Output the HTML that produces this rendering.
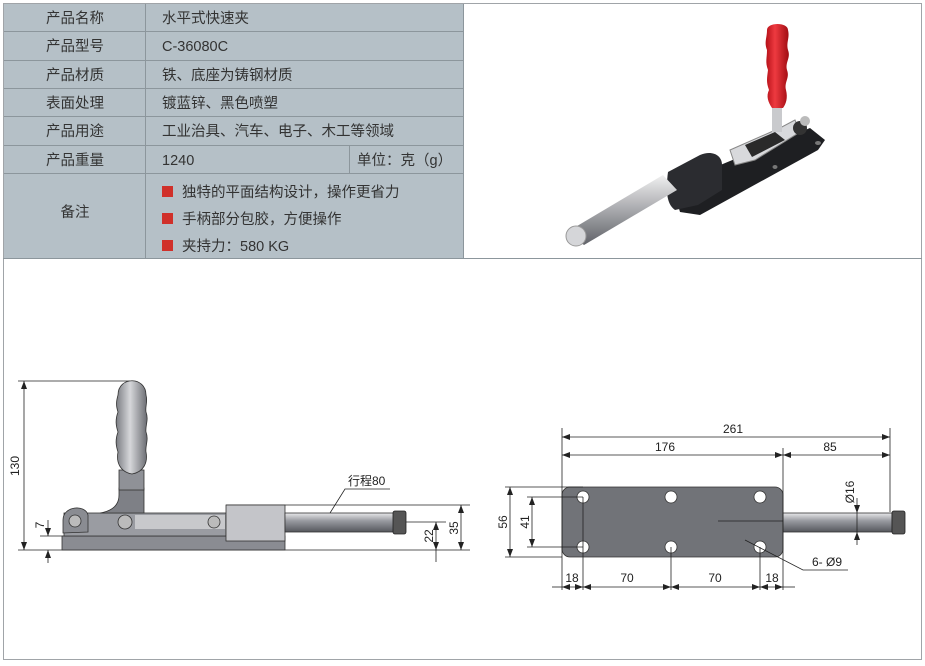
<!DOCTYPE html>
<html><head><meta charset="utf-8"><style>
html,body{margin:0;padding:0;background:#fff;}
body{width:925px;height:666px;overflow:hidden;position:relative;}
svg{position:absolute;left:0;top:0;}
.t{font-family:"Liberation Sans","Noto Sans CJK SC",sans-serif;font-size:14.5px;fill:#333;}
.d{font-family:"Liberation Sans","Noto Sans CJK SC",sans-serif;font-size:12px;fill:#222;}
</style></head><body>
<svg width="925" height="666" viewBox="0 0 925 666" xmlns="http://www.w3.org/2000/svg">
<defs>
<marker id="a" markerWidth="8" markerHeight="6" refX="8" refY="3" orient="auto-start-reverse" markerUnits="userSpaceOnUse"><path d="M0,0 L8,3 L0,6z" fill="#222"/></marker>
<linearGradient id="rod" x1="0" y1="0" x2="0" y2="1"><stop offset="0" stop-color="#e8e8ea"/><stop offset=".4" stop-color="#9a9ca2"/><stop offset="1" stop-color="#55575c"/></linearGradient>
<linearGradient id="grip" x1="0" y1="0" x2="1" y2="0"><stop offset="0" stop-color="#7a7c82"/><stop offset=".45" stop-color="#d6d7da"/><stop offset="1" stop-color="#6a6c72"/></linearGradient>
<linearGradient id="red" x1="0" y1="0" x2="1" y2="0"><stop offset="0" stop-color="#b51018"/><stop offset=".4" stop-color="#ee3a40"/><stop offset="1" stop-color="#a00c12"/></linearGradient>
<linearGradient id="prod" x1="0" y1="0" x2="0" y2="1"><stop offset="0" stop-color="#f0f0f0"/><stop offset=".5" stop-color="#a8a9ad"/><stop offset="1" stop-color="#606268"/></linearGradient>
</defs>
<rect x="3.5" y="3.5" width="918" height="656" fill="none" stroke="#a0a4a8"/>
<rect x="4" y="4" width="459" height="254" fill="#b5c0c7"/>
<g stroke="#8c969c" stroke-width="1">
<line x1="4" y1="31.5" x2="463" y2="31.5"/><line x1="4" y1="60.5" x2="463" y2="60.5"/><line x1="4" y1="88.5" x2="463" y2="88.5"/><line x1="4" y1="116.5" x2="463" y2="116.5"/><line x1="4" y1="145.5" x2="463" y2="145.5"/><line x1="4" y1="173.5" x2="463" y2="173.5"/>
<line x1="145.5" y1="4" x2="145.5" y2="258"/><line x1="349.5" y1="145" x2="349.5" y2="173"/><line x1="463.5" y1="4" x2="463.5" y2="258"/>
</g>
<line x1="3" y1="258.5" x2="922" y2="258.5" stroke="#8c969c"/>
<g class="t">
<text x="75" y="23" text-anchor="middle">产品名称</text>
<text x="75" y="51" text-anchor="middle">产品型号</text>
<text x="75" y="80" text-anchor="middle">产品材质</text>
<text x="75" y="108" text-anchor="middle">表面处理</text>
<text x="75" y="136" text-anchor="middle">产品用途</text>
<text x="75" y="165" text-anchor="middle">产品重量</text>
<text x="75" y="217" text-anchor="middle">备注</text>
<text x="162" y="23">水平式快速夹</text>
<text x="162" y="51">C-36080C</text>
<text x="162" y="80">铁、底座为铸钢材质</text>
<text x="162" y="108">镀蓝锌、黑色喷塑</text>
<text x="162" y="136">工业治具、汽车、电子、木工等领域</text>
<text x="162" y="165">1240</text>
<text x="357" y="165">单位：克（g）</text>
<text x="182" y="197">独特的平面结构设计，操作更省力</text>
<text x="182" y="224">手柄部分包胶，方便操作</text>
<text x="182" y="251">夹持力：580 KG</text>
</g>
<rect x="162" y="186" width="11" height="11" fill="#d0302a"/>
<rect x="162" y="213" width="11" height="11" fill="#d0302a"/>
<rect x="162" y="240" width="11" height="11" fill="#d0302a"/>
<!-- product photo -->
<g>
<polygon points="672,185 810,128 825,140 818,150 700,215 680,212" fill="#1e1f22"/>
<ellipse cx="706" cy="191" rx="3" ry="2" fill="#777"/><ellipse cx="818" cy="143" rx="3" ry="2" fill="#777"/><ellipse cx="775" cy="167" rx="2.5" ry="2" fill="#777"/>
<path d="M730,150 L780,128 L795,120 L800,132 L755,160 L735,165z" fill="#d8d9dc" stroke="#888"/>
<path d="M745,145 L775,132 L785,140 L752,157z" fill="#2a2a2a"/>
<rect x="772" y="100" width="10" height="32" fill="#c9cacd"/>
<circle cx="800" cy="128" r="7" fill="#333"/><circle cx="805" cy="121" r="5" fill="#bbb"/>
<path d="M767,30 C767,22 788,22 788,30 C790,38 786,42 788,50 C791,58 785,62 787,70 C790,78 784,82 786,90 C788,98 786,104 783,108 L772,108 C768,102 766,96 769,90 C766,82 767,78 768,70 C765,62 767,58 767,50 C764,42 767,38 767,30z" fill="url(#red)"/>
<path d="M668,172 L700,155 C712,150 722,155 722,165 L722,190 L698,205 L675,210 C668,205 665,195 668,172z" fill="#2b2c30"/>
<polygon points="567,232 663,175 677,190 584,245" fill="url(#prod)"/>
<ellipse cx="576" cy="236" rx="10" ry="10" fill="#d5d6d9" stroke="#999"/>
</g>
<!-- side view -->
<g stroke="#222" stroke-width="0.8" fill="none">
<line x1="18" y1="381" x2="130" y2="381"/>
<line x1="24" y1="381" x2="24" y2="550" marker-start="url(#a)" marker-end="url(#a)"/>
<line x1="18" y1="550" x2="470" y2="550"/>
<line x1="40" y1="536" x2="64" y2="536"/>
<line x1="48" y1="520" x2="48" y2="536" marker-end="url(#a)"/>
<line x1="48" y1="563" x2="48" y2="550" marker-end="url(#a)"/>
<line x1="226" y1="505" x2="470" y2="505"/>
<line x1="406" y1="522" x2="446" y2="522"/>
<line x1="436" y1="522" x2="436" y2="550" marker-start="url(#a)" marker-end="url(#a)"/>
<line x1="436" y1="550" x2="436" y2="562"/>
<line x1="461" y1="505" x2="461" y2="550" marker-start="url(#a)" marker-end="url(#a)"/>
<polyline points="390,489 345,489 330,513"/>
</g>
<text class="d" x="348" y="485">行程80</text>
<text class="d" transform="translate(19,466) rotate(-90)" text-anchor="middle">130</text>
<text class="d" transform="translate(44,525) rotate(-90)" text-anchor="middle">7</text>
<text class="d" transform="translate(433,536) rotate(-90)" text-anchor="middle">22</text>
<text class="d" transform="translate(458,528) rotate(-90)" text-anchor="middle">35</text>
<rect x="62" y="536" width="223" height="14" fill="#8a8c92" stroke="#333" stroke-width=".8"/>
<rect x="64" y="513" width="162" height="23" fill="#9a9ca2" stroke="#333" stroke-width=".8"/>
<rect x="135" y="515" width="90" height="14" fill="#c8c9cc"/>
<path d="M119,488 L144,488 L144,513 L100,513 C112,511 119,505 119,495z" fill="#7e8086" stroke="#333" stroke-width=".8"/>
<rect x="119" y="470" width="25" height="20" fill="#8f9197" stroke="#333" stroke-width=".8"/>
<path d="M118,395 C118,376 146,376 146,395 C148,402 145,406 146,412 C149,420 145,426 146,432 C149,440 145,446 146,452 C148,462 144,472 132,474 C120,472 116,462 118,452 C116,446 115,440 118,432 C116,426 115,420 118,412 C116,406 116,402 118,395z" fill="url(#grip)" stroke="#333" stroke-width=".8"/>
<path d="M63,520 C63,506 85,504 88,515 L88,532 L63,533z" fill="#8a8c92" stroke="#333" stroke-width=".8"/>
<circle cx="75" cy="521" r="6" fill="#bbb" stroke="#333" stroke-width=".8"/>
<circle cx="125" cy="522" r="7" fill="#bbb" stroke="#333" stroke-width=".8"/>
<circle cx="214" cy="522" r="6" fill="#bbb" stroke="#333" stroke-width=".8"/>
<rect x="226" y="505" width="59" height="36" fill="#c4c5c9" stroke="#333" stroke-width=".8"/>
<rect x="285" y="513" width="112" height="19" fill="url(#rod)" stroke="#333" stroke-width=".8"/>
<rect x="393" y="511" width="13" height="23" rx="2" fill="#555" stroke="#222" stroke-width=".8"/>
<!-- top view -->
<rect x="562" y="487" width="221" height="70" rx="8" fill="#717378" stroke="#333" stroke-width=".8"/>
<rect x="783" y="513" width="109" height="19" fill="url(#rod)" stroke="#333" stroke-width=".8"/>
<rect x="892" y="511" width="13" height="23" rx="2" fill="#555" stroke="#222" stroke-width=".8"/>
<g fill="#fff" stroke="#333" stroke-width=".8">
<circle cx="583" cy="497" r="6"/><circle cx="671" cy="497" r="6"/><circle cx="760" cy="497" r="6"/>
<circle cx="583" cy="547" r="6"/><circle cx="671" cy="547" r="6"/><circle cx="760" cy="547" r="6"/>
</g>
<g stroke="#222" stroke-width="0.8" fill="none">
<line x1="562" y1="428" x2="562" y2="590"/>
<line x1="783" y1="448" x2="783" y2="590"/>
<line x1="890" y1="428" x2="890" y2="512"/>
<line x1="583" y1="497" x2="583" y2="590"/>
<line x1="671" y1="547" x2="671" y2="590"/>
<line x1="760" y1="547" x2="760" y2="590"/>
<line x1="562" y1="437" x2="890" y2="437" marker-start="url(#a)" marker-end="url(#a)"/>
<line x1="562" y1="455" x2="783" y2="455" marker-start="url(#a)" marker-end="url(#a)"/>
<line x1="783" y1="455" x2="890" y2="455" marker-start="url(#a)" marker-end="url(#a)"/>
<line x1="505" y1="487" x2="583" y2="487"/>
<line x1="505" y1="557" x2="562" y2="557"/>
<line x1="527" y1="497" x2="583" y2="497"/>
<line x1="527" y1="547" x2="583" y2="547"/>
<line x1="510" y1="487" x2="510" y2="557" marker-start="url(#a)" marker-end="url(#a)"/>
<line x1="532" y1="497" x2="532" y2="547" marker-start="url(#a)" marker-end="url(#a)"/>
<line x1="552" y1="587" x2="562" y2="587"/>
<line x1="562" y1="587" x2="583" y2="587" marker-start="url(#a)" marker-end="url(#a)"/>
<line x1="583" y1="587" x2="671" y2="587" marker-start="url(#a)" marker-end="url(#a)"/>
<line x1="671" y1="587" x2="760" y2="587" marker-start="url(#a)" marker-end="url(#a)"/>
<line x1="760" y1="587" x2="783" y2="587" marker-start="url(#a)" marker-end="url(#a)"/>
<line x1="783" y1="587" x2="795" y2="587"/>
<line x1="718" y1="521" x2="783" y2="521"/>
<line x1="857" y1="498" x2="857" y2="513" marker-end="url(#a)"/>
<line x1="857" y1="545" x2="857" y2="532" marker-end="url(#a)"/>
<line x1="857" y1="513" x2="857" y2="532"/>
<polyline points="745,540 803,570 848,570"/>
</g>
<text class="d" x="733" y="433" text-anchor="middle">261</text>
<text class="d" x="665" y="451" text-anchor="middle">176</text>
<text class="d" x="830" y="451" text-anchor="middle">85</text>
<text class="d" transform="translate(507,522) rotate(-90)" text-anchor="middle">56</text>
<text class="d" transform="translate(529,522) rotate(-90)" text-anchor="middle">41</text>
<text class="d" transform="translate(854,492) rotate(-90)" text-anchor="middle">Ø16</text>
<text class="d" x="812" y="566">6- Ø9</text>
<text class="d" x="572" y="582" text-anchor="middle">18</text>
<text class="d" x="627" y="582" text-anchor="middle">70</text>
<text class="d" x="715" y="582" text-anchor="middle">70</text>
<text class="d" x="772" y="582" text-anchor="middle">18</text>
</svg>
</body></html>
